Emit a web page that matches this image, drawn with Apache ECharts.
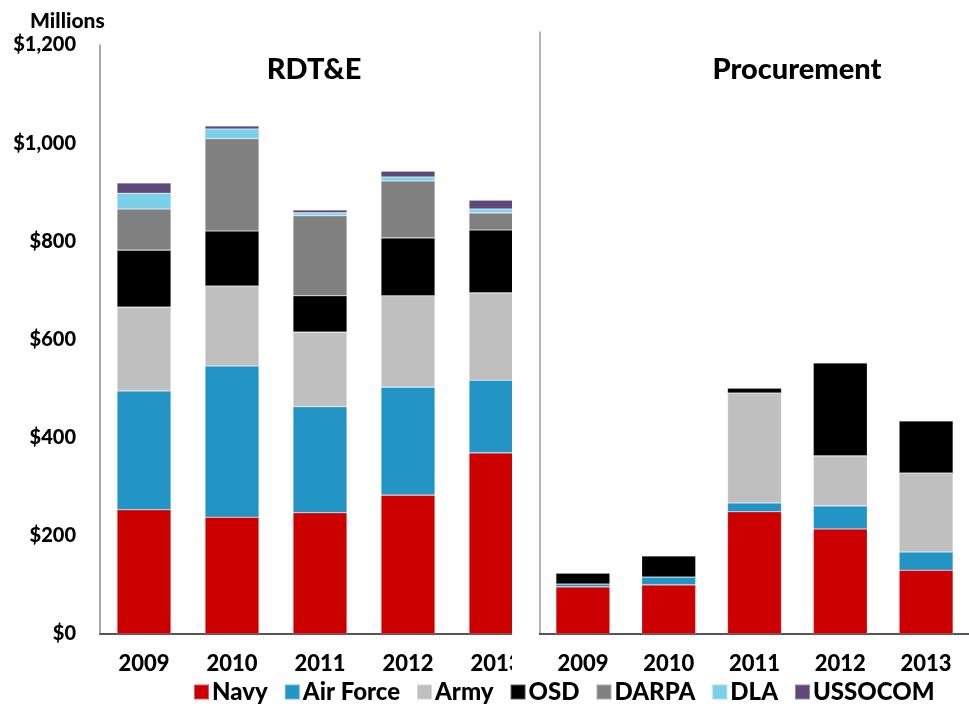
<!DOCTYPE html>
<html>
<head>
<meta charset="utf-8">
<script src="https://cdn.jsdelivr.net/npm/echarts@6/dist/echarts.min.js"></script>
<style>html,body{margin:0;padding:0;background:#fff;}#c{width:969px;height:707px;}</style>
</head>
<body>
<div id="c"></div>
<script>
const years = ['2009', '2010', '2011', '2012', '2013'];
const yTicks = [0, 200, 400, 600, 800, 1000, 1200];
// RDT&E (millions)
const rdteNavy     = [253, 238, 247, 283, 369];
const rdteAirForce = [242, 308, 216, 220, 148];
const rdteArmy     = [171, 163, 152, 186, 178];
const rdteOSD      = [116, 112, 74, 118, 128];
const rdteDARPA    = [84, 188, 163, 116, 35];
const rdteDLA      = [32, 20, 6, 8, 8];
const rdteUSSOCOM  = [21, 6, 6, 12, 18];
// Procurement (millions)
const procNavy     = [96, 100, 249, 214, 130];
const procAirForce = [6, 16, 18, 47, 37];
const procArmy     = [0, 0, 224, 102, 161];
const procOSD      = [22, 43, 10, 189, 106];

const colors = {
  'Navy': '#CC0000', 'Air Force': '#2394C6', 'Army': '#BFBFBF', 'OSD': '#000000',
  'DARPA': '#808080', 'DLA': '#7ACFE9', 'USSOCOM': '#5F497A'
};
const FONT = 'Lato';
const W = 900;
const chart = echarts.init(document.getElementById('c'));

function bar(name, data, idx, stack) {
  return {
    name, type: 'bar', stack, data, xAxisIndex: idx, yAxisIndex: idx,
    barWidth: 54,
    itemStyle: { color: colors[name], borderColor: 'rgba(255,255,255,0.35)', borderWidth: 0.6 },
    emphasis: { disabled: true }
  };
}

const xCommon = {
  type: 'category', data: years,
  axisLine: { lineStyle: { color: '#555', width: 2 } },
  axisTick: { show: false },
  axisLabel: { color: '#000', fontFamily: FONT, fontWeight: W, fontSize: 22, margin: 19 }
};

chart.setOption({
  animation: false,
  color: Object.values(colors),
  title: [
    { text: 'Millions', left: 25, top: 6, textStyle: { fontFamily: FONT, fontWeight: W, fontSize: 21, color: '#000' } },
    { text: 'RDT&E', left: 309, top: 50, textAlign: 'center', textStyle: { fontFamily: FONT, fontWeight: W, fontSize: 29, color: '#000' } },
    { text: 'Procurement', left: 792, top: 50, textAlign: 'center', textStyle: { fontFamily: FONT, fontWeight: W, fontSize: 29, color: '#000' } }
  ],
  legend: {
    bottom: -2, left: 188, itemWidth: 15, itemHeight: 15, itemGap: 16,
    icon: 'rect',
    data: ['Navy', 'Air Force', 'Army', 'OSD', 'DARPA', 'DLA', 'USSOCOM'],
    textStyle: { fontFamily: FONT, fontWeight: W, fontSize: 24, color: '#000', padding: [0, 0, 0, -2] }
  },
  grid: [
    { left: 100, top: 45, width: 440, bottom: 73 },
    { left: 540, top: 32, width: 435, bottom: 73 }
  ],
  xAxis: [
    Object.assign({ gridIndex: 0 }, xCommon),
    Object.assign({ gridIndex: 1 }, xCommon)
  ],
  yAxis: [
    {
      gridIndex: 0, type: 'value', min: yTicks[0], max: yTicks[yTicks.length - 1], interval: 200,
      axisLine: { show: true, lineStyle: { color: '#8c8c8c', width: 1.5 } },
      axisTick: { show: false },
      splitLine: { show: false },
      axisLabel: {
        color: '#000', fontFamily: FONT, fontWeight: W, fontSize: 20, margin: 24,
        formatter: v => '$' + v.toLocaleString('en-US')
      }
    },
    {
      gridIndex: 1, type: 'value', min: 0, max: 1226.5,
      axisLine: { show: true, lineStyle: { color: '#9a9a9a', width: 1.5 } },
      axisTick: { show: false }, splitLine: { show: false }, axisLabel: { show: false }
    }
  ],
  graphic: [
    { type: 'rect', shape: { x: 512, y: 30, width: 27, height: 652 }, style: { fill: '#fff' }, z: 100 }
  ],
  series: [
    bar('Navy', rdteNavy, 0, 'r'),
    bar('Air Force', rdteAirForce, 0, 'r'),
    bar('Army', rdteArmy, 0, 'r'),
    bar('OSD', rdteOSD, 0, 'r'),
    bar('DARPA', rdteDARPA, 0, 'r'),
    bar('DLA', rdteDLA, 0, 'r'),
    bar('USSOCOM', rdteUSSOCOM, 0, 'r'),
    bar('Navy', procNavy, 1, 'p'),
    bar('Air Force', procAirForce, 1, 'p'),
    bar('Army', procArmy, 1, 'p'),
    bar('OSD', procOSD, 1, 'p')
  ]
});
</script>
</body>
</html>
